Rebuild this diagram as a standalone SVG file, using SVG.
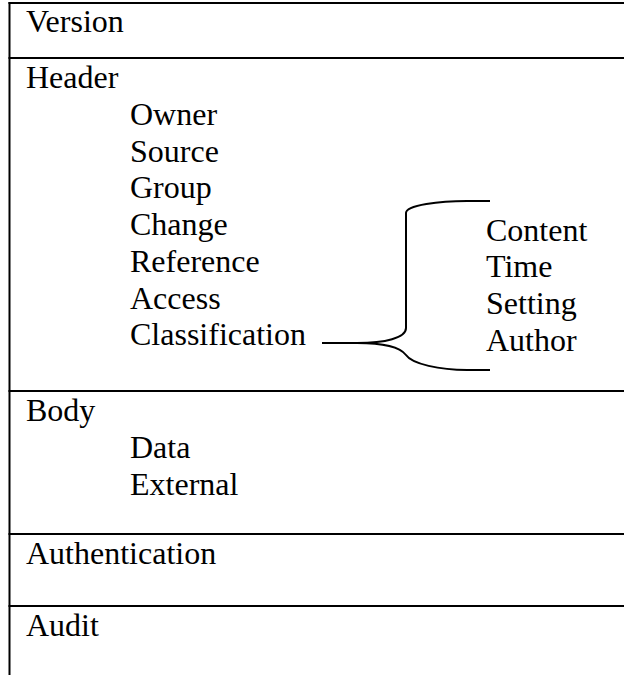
<svg xmlns="http://www.w3.org/2000/svg" width="624" height="675" viewBox="0 0 624 675">
  <style>
    .rule { stroke: #000; stroke-width: 2; fill: none; }
    .lbl { font-size: 32px; fill: #000; }
    .brace { stroke: #000; stroke-width: 2; fill: none; stroke-linecap: butt; }
  </style>
  <rect width="624" height="675" fill="#fff"/>

  <!-- table frame -->
  <g id="frame">
    <line class="rule" x1="9.5" y1="2" x2="9.5" y2="675"/>
    <line class="rule" x1="8.5" y1="3" x2="624" y2="3"/>
    <line class="rule" x1="8.5" y1="58" x2="624" y2="58"/>
    <line class="rule" x1="8.5" y1="391" x2="624" y2="391"/>
    <line class="rule" x1="8.5" y1="534" x2="624" y2="534"/>
    <line class="rule" x1="8.5" y1="606" x2="624" y2="606"/>
  </g>

  <g font-family="'Liberation Serif', 'Times New Roman', Times, 'DejaVu Serif', serif">
    <g id="version">
      <text class="lbl" x="26" y="32">Version</text>
    </g>

    <g id="header">
      <text class="lbl" x="26" y="88">Header</text>
      <text class="lbl" x="130" y="125">Owner</text>
      <text class="lbl" x="130" y="161.7">Source</text>
      <text class="lbl" x="130" y="198.4">Group</text>
      <text class="lbl" x="130" y="235.1">Change</text>
      <text class="lbl" x="130" y="271.8">Reference</text>
      <text class="lbl" x="130" y="308.5">Access</text>
      <text class="lbl" x="130" y="345.2">Classification</text>
    </g>

    <g id="classification-items">
      <text class="lbl" x="486" y="240.5">Content</text>
      <text class="lbl" x="486" y="277.3">Time</text>
      <text class="lbl" x="486" y="314.1">Setting</text>
      <text class="lbl" x="486" y="350.9">Author</text>
    </g>

    <g id="body">
      <text class="lbl" x="26" y="421">Body</text>
      <text class="lbl" x="130" y="457.8">Data</text>
      <text class="lbl" x="130" y="494.5">External</text>
    </g>

    <g id="authentication">
      <text class="lbl" x="26" y="563.5">Authentication</text>
    </g>

    <g id="audit">
      <text class="lbl" x="26" y="635.5">Audit</text>
    </g>
  </g>

  <!-- brace linking Classification to its sub-items -->
  <g id="connectors">
    <path class="brace" d="M322,343 L357,343 C385,343 406,338 406,328 L406,213 C406,205 440,201 467,201 L490,201"/>
    <path class="brace" d="M357,343 C385,343 400,347 406,355 C412,364 440,370 467,370 L490,370"/>
  </g>
</svg>
